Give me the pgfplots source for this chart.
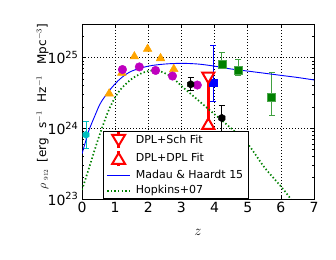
\documentclass[border=0pt]{standalone}
\usepackage{fontspec}
\setmainfont{DejaVu Sans}
\usepackage{pgfplots}
\pgfplotsset{compat=1.18}

\definecolor{mporange}{RGB}{255,165,0}
\definecolor{mpmag}{RGB}{191,0,191}
\definecolor{mpgreen}{RGB}{0,128,0}
\definecolor{mpcyan}{RGB}{0,191,191}
\definecolor{mpblue}{RGB}{0,0,255}

% hexagon with a vertex on top, like matplotlib's 'h'
\pgfdeclareplotmark{hex*}{%
  \pgfpathmoveto{\pgfqpointpolar{90}{\pgfplotmarksize}}%
  \pgfpathlineto{\pgfqpointpolar{150}{\pgfplotmarksize}}%
  \pgfpathlineto{\pgfqpointpolar{210}{\pgfplotmarksize}}%
  \pgfpathlineto{\pgfqpointpolar{270}{\pgfplotmarksize}}%
  \pgfpathlineto{\pgfqpointpolar{330}{\pgfplotmarksize}}%
  \pgfpathlineto{\pgfqpointpolar{30}{\pgfplotmarksize}}%
  \pgfpathclose\pgfusepathqfillstroke}

\begin{document}
\begin{tikzpicture}
\path[use as bounding box] (-82pt,-60pt) rectangle (254pt,199pt);
\begin{axis}[
  scale only axis, width=232pt, height=175pt, at={(0,0)}, anchor=south west,
  ymode=log, xmin=0, xmax=7, ymin=1e23, ymax=3e25,
  xtick={0,1,2,3,4,5,6,7},
  ytick={1e23,1e24,1e25},
  yticklabels={10\textsuperscript{23},10\textsuperscript{24},10\textsuperscript{25}},
  minor ytick={2e23,3e23,4e23,5e23,6e23,7e23,8e23,9e23,2e24,3e24,4e24,5e24,6e24,7e24,8e24,9e24,2e25,3e25},
  tick align=inside, major tick length=4pt, minor tick length=2pt,
  every tick/.style={black, line width=0.6pt},
  axis line style={line width=0.9pt},
  grid=major, grid style={black, line width=0.5pt, dash pattern=on 1pt off 2pt},
  ticklabel style={font=\fontsize{14}{16}\selectfont},
  xticklabel style={/pgf/number format/assume math mode=true},
  xlabel={$z$},
  ylabel={$\rho_{\;\scriptscriptstyle 912}$\hspace{7pt}[erg\hspace{9pt}s$^{-1}$\hspace{9pt}Hz$^{-1}$\hspace{11pt}Mpc$^{-3}$]},
  xlabel style={at={(axis description cs:0.5,-0.19)}, anchor=center, font=\fontsize{14}{16}\selectfont},
  ylabel style={at={(axis description cs:-0.17,0.529)}, anchor=center, font=\fontsize{12}{14}\selectfont},
  legend style={at={(axis description cs:0.0905,0)}, anchor=south west, draw=black, line width=0.8pt, fill=white,
    font=\fontsize{11}{13}\selectfont, inner xsep=3pt, inner ysep=0pt, row sep=0pt, column sep=3pt,
    nodes={text height=8pt, text depth=2.5pt, inner ysep=2.5pt}},
  legend cell align=left,
  error bars/error mark options={rotate=90, mark size=3pt, line width=0.8pt},
]
% data points
\addplot[only marks, mark=triangle*, mark size=5pt, color=mporange, forget plot]
  coordinates {(0.82,3.1e24) (1.2,6.1e24) (1.58,1.04e25) (1.98,1.33e25) (2.37,9.8e24) (2.77,6.9e24)};
\addplot[only marks, mark=*, mark size=4.3pt, color=mpmag, forget plot]
  coordinates {(1.22,6.8e24) (1.73,7.4e24) (2.22,6.6e24) (2.73,5.5e24) (3.48,4.1e24)};
\addplot[only marks, mark=hex*, mark size=3.6pt, color=mpcyan, forget plot,
  error bars/.cd, y dir=both, y explicit, error bar style={line width=0.8pt}]
  coordinates {(0.12,8.1e23) += (0,4.6e23) -= (0,2.9e23)};
\addplot[only marks, mark=hex*, mark size=3.8pt, color=black, forget plot,
  error bars/.cd, y dir=both, y explicit, error bar style={line width=0.8pt}]
  coordinates {(3.28,4.2e24) += (0,1.1e24) -= (0,0.8e24)
               (4.22,1.4e24) += (0,0.7e24) -= (0,0.5e24)};
\addplot[only marks, mark=square*, mark size=3.8pt, color=mpblue, forget plot,
  error bars/.cd, y dir=both, y explicit, error bar style={line width=0.8pt}]
  coordinates {(3.96,4.4e24) += (0,1.04e25) -= (0,2.0e24)};
\addplot[only marks, mark=square*, mark size=4.1pt, color=mpgreen, mark options={draw=mpgreen!70!white}, forget plot,
  error bars/.cd, y dir=both, y explicit, error bar style={line width=0.8pt, mpgreen!75!white}]
  coordinates {(4.22,8.1e24) += (0,3.6e24) -= (0,1.0e24)
               (4.72,6.6e24) += (0,3.0e24) -= (0,1.0e24)
               (5.72,2.75e24) += (0,3.4e24) -= (0,1.25e24)};
% fits
\addplot[only marks, red, mark=triangle*, mark size=7pt,
  mark options={rotate=180, fill=white, line width=2pt},
  error bars/.cd, y dir=minus, y explicit, error mark=none,
  error bar style={line width=2.5pt, red},
  /pgfplots/legend image code/.code={
    \draw[red, line width=2.5pt] (0.4cm,-7.85pt) -- (0.4cm,7.85pt);
    \draw[red, line width=2pt, fill=white] (0.4cm-6.5pt,5.5pt) -- (0.4cm+6.5pt,5.5pt) -- (0.4cm,-5.5pt) -- cycle;}]
  coordinates {(3.81,5.5e24) -= (0,4.4e24)};
\addlegendentry{DPL+Sch Fit}
\addplot[only marks, red, mark=triangle*, mark size=7pt,
  mark options={fill=white, line width=2pt},
  error bars/.cd, y dir=plus, y explicit, error mark=none,
  error bar style={line width=2.5pt, red},
  /pgfplots/legend image code/.code={
    \draw[red, line width=2.5pt] (0.4cm,-7.85pt) -- (0.4cm,7.85pt);
    \draw[red, line width=2pt, fill=white] (0.4cm-6.5pt,-5.5pt) -- (0.4cm+6.5pt,-5.5pt) -- (0.4cm,5.5pt) -- cycle;}]
  coordinates {(3.81,1.1e24) += (0,4.4e24)};
\addlegendentry{DPL+DPL Fit}
% models
\addplot[mpblue, line width=0.9pt, no marks, smooth,
  legend image code/.code={\draw[mpblue, line width=0.9pt] (0cm,0cm) -- (0.8cm,0cm);}]
  coordinates {(0,4.37e23) (0.1,6.31e23) (0.2,9.12e23) (0.3,1.20e24) (0.4,1.55e24) (0.5,2.0e24)
    (0.6,2.45e24) (0.8,3.31e24) (1.0,4.27e24) (1.2,5.25e24) (1.5,6.46e24) (2.0,7.59e24)
    (2.5,8.13e24) (3.0,8.32e24) (3.5,8.13e24) (4.0,7.59e24) (4.5,6.92e24) (5.0,6.46e24)
    (5.5,6.03e24) (6.0,5.62e24) (6.5,5.25e24) (7.0,4.84e24)};
\addlegendentry{Madau \& Haardt 15}
\addplot[mpgreen, line width=1.7pt, no marks, smooth, dash pattern=on 1.4pt off 2.2pt,
  legend image code/.code={\draw[mpgreen, line width=1.7pt, dash pattern=on 1.4pt off 2.2pt] (0cm,0cm) -- (0.8cm,0cm);}]
  coordinates {(0,1.35e23) (0.2,2.63e23) (0.4,5.25e23) (0.6,1.0e24) (0.8,1.78e24) (1.0,2.75e24)
    (1.2,3.72e24) (1.5,5.01e24) (1.8,6.03e24) (2.0,6.46e24) (2.2,6.61e24) (2.4,6.31e24)
    (2.7,5.37e24) (3.0,3.98e24) (3.5,2.51e24) (4.0,1.58e24) (4.5,1.0e24) (5.0,6.03e23)
    (5.5,2.82e23) (6.0,1.51e23) (6.3,1.0e23) (6.4,8.5e22)};
\addlegendentry{Hopkins+07}
\end{axis}
\end{tikzpicture}
\end{document}
